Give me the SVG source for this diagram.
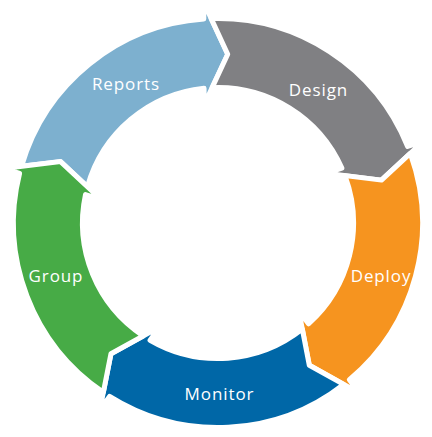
<svg xmlns="http://www.w3.org/2000/svg" xmlns:xlink="http://www.w3.org/1999/xlink" width="432" height="437" viewBox="0 0 432 437">
<style>
.seg{stroke:#fff;stroke-width:5;stroke-linejoin:round}
.lbl{font-family:"Open Sans","Liberation Sans",sans-serif;font-size:17px;letter-spacing:0.9px;fill:#fff;text-anchor:middle}
</style>
<defs>
<path id="arrow" d="M -192.41 -69.27 A 204.5 204.5 0 0 1 -1.01 -204.5 L 0 -221 L 20.6 -167.74 L -6.23 -118.84 L -5.22 -135.4 A 135.5 135.5 0 0 0 -127.94 -44.62 L -153.17 -71.42 Z"/>
</defs>
<rect width="432" height="437" fill="#fff"/>
<g id="connectors"></g>
<g id="reports">
<use xlink:href="#arrow" href="#arrow" class="seg" fill="#7DB0CF" transform="translate(218 223) rotate(-3.7)"/>
<text class="lbl" x="126" y="90">Reports</text>
</g>
<g id="design">
<use xlink:href="#arrow" href="#arrow" class="seg" fill="#808083" transform="translate(218 223) rotate(68.3)"/>
<text class="lbl" x="318.5" y="95.5">Design</text>
</g>
<g id="deploy">
<use xlink:href="#arrow" href="#arrow" class="seg" fill="#F6941F" transform="translate(218 223) rotate(140.3)"/>
<text class="lbl" x="381" y="282">Deploy</text>
</g>
<g id="monitor">
<use xlink:href="#arrow" href="#arrow" class="seg" fill="#0067A7" transform="translate(218 223) rotate(212.3)"/>
<text class="lbl" x="219.5" y="400">Monitor</text>
</g>
<g id="group">
<use xlink:href="#arrow" href="#arrow" class="seg" fill="#47AB46" transform="translate(218 223) rotate(284.3)"/>
<text class="lbl" x="56" y="282">Group</text>
</g>
</svg>
